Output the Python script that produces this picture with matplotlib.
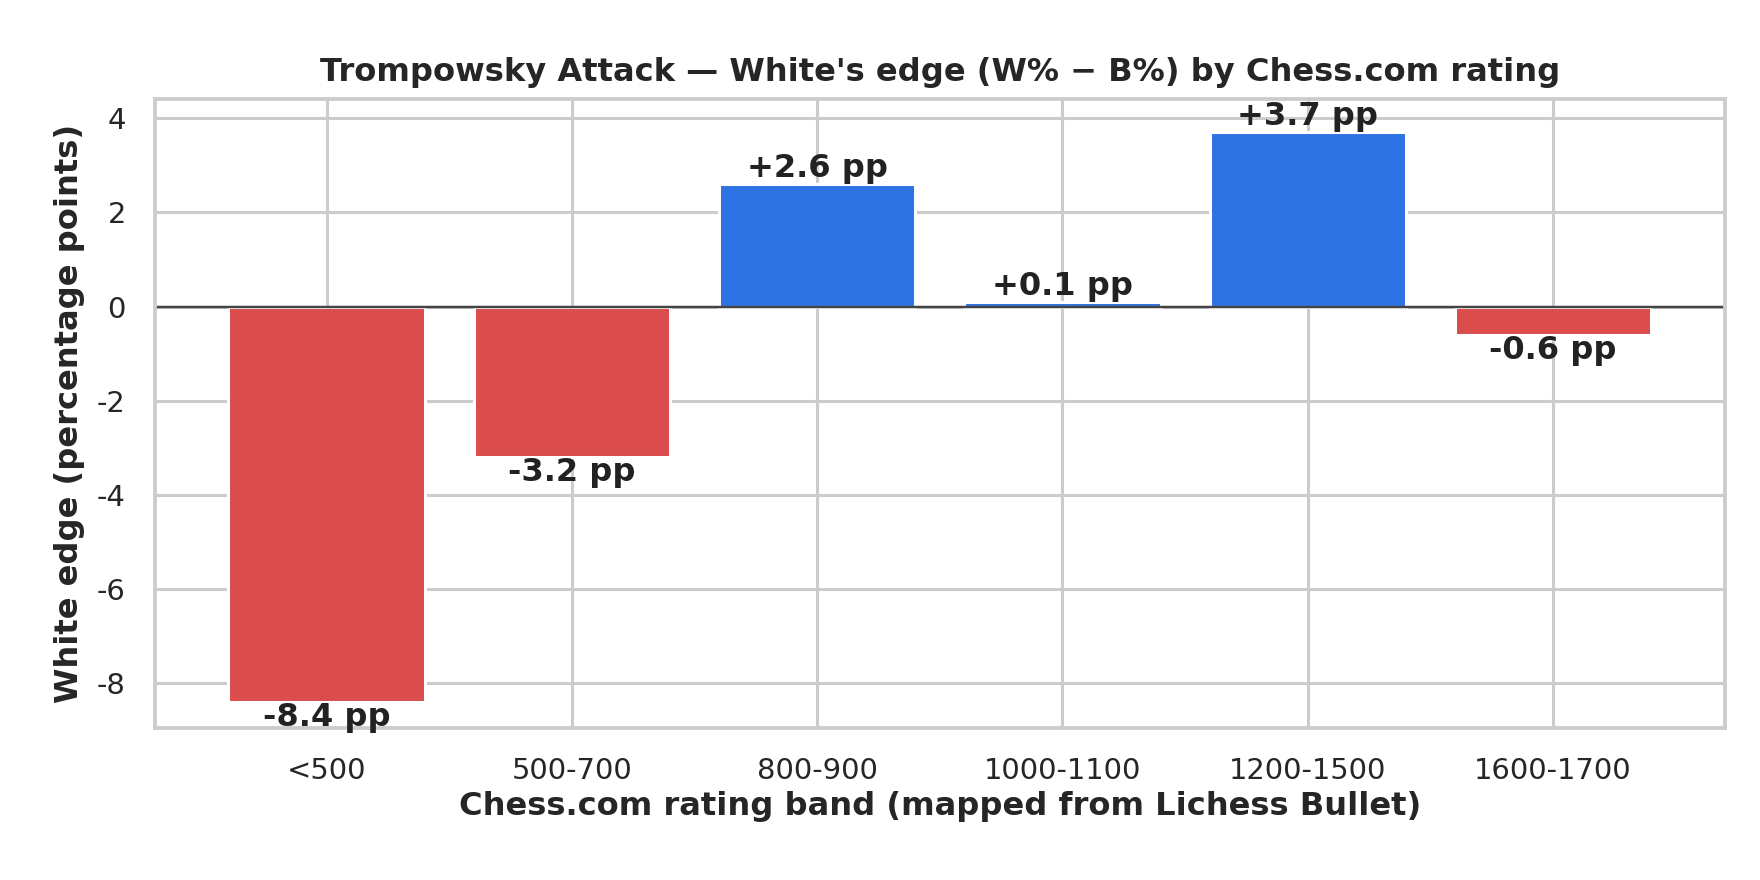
import matplotlib
matplotlib.use("Agg")
import matplotlib.pyplot as plt
import seaborn as sns

sns.set_theme(style="whitegrid")
plt.rcParams['axes.unicode_minus'] = False
plt.rcParams['font.family'] = ['DejaVu Sans']

bands = ["<500", "500-700", "800-900", "1000-1100", "1200-1500", "1600-1700"]
edge = [-8.4, -3.2, 2.6, 0.1, 3.7, -0.6]

colors = ["#2f72e4" if v >= 0 else "#db4c4c" for v in edge]

fig, ax = plt.subplots(figsize=(8, 4), dpi=220)
x = range(len(bands))
ax.bar(x, edge, color=colors, width=0.8)
ax.axhline(0, color="#444444", linewidth=0.8)

for i, v in enumerate(edge):
    label = f"{v:+.1f} pp"
    va = "bottom" if v >= 0 else "top"
    ax.text(i, v, label, ha="center", va=va, fontsize=10.5,
            fontweight="bold", color="#222222")

ax.set_xticks(list(x))
ax.set_xticklabels(bands)
ax.set_ylim(-8.95, 4.4)
ax.set_yticks([-8, -6, -4, -2, 0, 2, 4])
ax.set_xlim(-0.7, 5.7)
ax.tick_params(labelsize=9.5)
ax.set_title("Trompowsky Attack \u2014 White's edge (W% \u2212 B%) by Chess.com rating",
             fontsize=10.5, fontweight="bold")
ax.set_xlabel("Chess.com rating band (mapped from Lichess Bullet)", fontsize=10.5,
              fontweight="bold", labelpad=2)
ax.set_ylabel("White edge (percentage points)", fontsize=10.5, fontweight="bold")

fig.subplots_adjust(left=0.088, right=0.98, top=0.887, bottom=0.173)
fig.savefig("out.png", dpi=220)
